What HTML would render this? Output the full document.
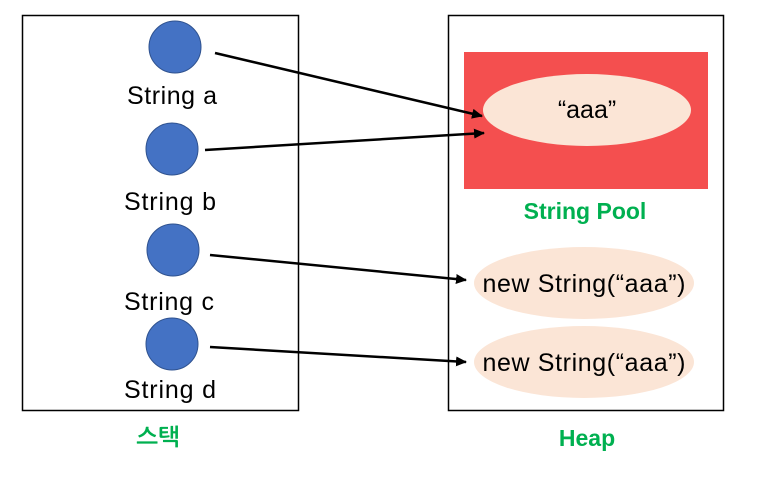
<!DOCTYPE html>
<html><head><style>body{margin:0;background:#fff}</style></head><body>
<svg width="757" height="488" xmlns="http://www.w3.org/2000/svg" font-family="Liberation Sans, NanumGothic, sans-serif">
<defs><marker id="ar" markerWidth="11" markerHeight="10" refX="10" refY="5" orient="auto" markerUnits="userSpaceOnUse"><path d="M0,0 L11,5 L0,10 Z" fill="#000"/></marker></defs>
<rect x="22.5" y="15.5" width="276" height="395" fill="none" stroke="#000" stroke-width="1.5"/>
<rect x="448.5" y="15.5" width="275" height="395" fill="none" stroke="#000" stroke-width="1.5"/>
<rect x="464" y="52" width="244" height="137" fill="#f44f4f"/>
<ellipse cx="587" cy="110" rx="104" ry="36" fill="#fbe5d6"/>
<ellipse cx="584" cy="283" rx="110" ry="36" fill="#fbe5d6"/>
<ellipse cx="584" cy="362" rx="110" ry="36" fill="#fbe5d6"/>
<g fill="#4472c4" stroke="#2f528f" stroke-width="1">
<circle cx="175" cy="47" r="26"/><circle cx="172" cy="149" r="26"/><circle cx="173" cy="250" r="26"/><circle cx="172" cy="344" r="26"/></g>
<g font-size="25" text-anchor="middle" fill="#000">
<text x="172" y="104" textLength="90">String a</text><text x="170" y="210" textLength="92">String b</text><text x="169" y="310" textLength="90">String c</text><text x="170" y="398" textLength="92">String d</text>
<text x="587" y="118">“aaa”</text>
<text x="584" y="292" textLength="203">new String(“aaa”)</text>
<text x="584" y="371" textLength="203">new String(“aaa”)</text></g>
<g font-size="23" font-weight="bold" fill="#00b050" text-anchor="middle">
<text x="585" y="219">String Pool</text><text x="158" y="445">스택</text><text x="587" y="446">Heap</text></g>
<g stroke="#000" stroke-width="2.5" marker-end="url(#ar)">
<line x1="215" y1="53" x2="482" y2="116"/><line x1="205" y1="150" x2="484" y2="133"/>
<line x1="210" y1="255" x2="466" y2="280"/><line x1="210" y1="347" x2="466" y2="362"/></g>
</svg>
</body></html>
